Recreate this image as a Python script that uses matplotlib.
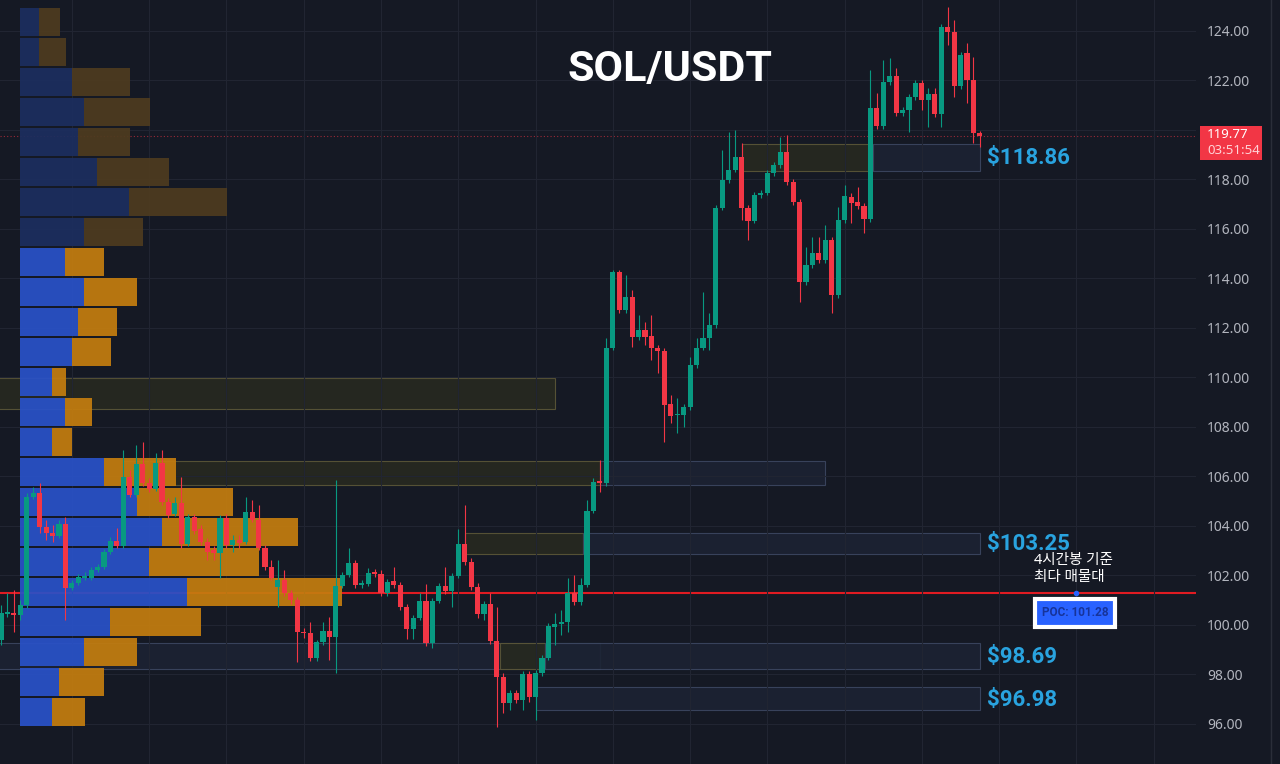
import matplotlib
matplotlib.use("Agg")
import matplotlib.pyplot as plt
from matplotlib.patches import Rectangle
from matplotlib.ticker import FormatStrFormatter
import numpy as np

plt.rcParams['font.family'] = ['Noto Sans', 'Noto Sans CJK KR', 'DejaVu Sans']
bold_fam = ['Roboto', 'Liberation Sans', 'DejaVu Sans']

# SOL/USDT 4h candles (oldest first)
opens = [99.39, 100.44, 100.48, 100.40, 100.81, 105.17, 105.33, 103.96, 103.72, 103.60,
         104.08, 101.49, 101.70, 101.90, 101.90, 102.22, 102.34, 102.95, 103.39, 103.19,
         105.98, 105.25, 106.51, 105.74, 105.49, 106.55, 104.97, 104.48, 104.93, 103.27,
         104.36, 103.88, 103.35, 103.03, 102.91, 104.32, 103.23, 103.43, 103.35, 104.57,
         104.24, 103.11, 102.34, 101.54, 101.82, 101.29, 101.01, 99.72, 99.68, 98.67,
         99.31, 99.76, 99.52, 101.58, 102.02, 102.51, 101.62, 101.66, 102.14, 102.06,
         101.29, 101.78, 101.62, 100.73, 99.84, 100.28, 100.97, 99.27, 100.97, 101.58,
         101.37, 101.98, 103.27, 102.55, 101.54, 100.44, 100.85, 99.35, 97.90, 96.85,
         97.25, 96.97, 98.02, 97.09, 98.06, 98.67, 99.92, 100.04, 100.12, 101.29,
         100.93, 101.62, 104.61, 105.82, 105.74, 111.19, 114.26, 112.73, 113.25, 111.64,
         111.92, 111.68, 111.19, 111.07, 108.93, 108.48, 108.48, 108.81, 110.51, 111.19,
         111.60, 112.12, 116.85, 117.98, 118.38, 118.91, 116.85, 116.32, 117.37, 117.45,
         118.26, 118.59, 119.11, 117.90, 117.09, 113.86, 114.55, 115.03, 114.75, 115.56,
         113.33, 116.36, 117.29, 117.09, 116.93, 116.40, 120.89, 120.16, 121.94, 122.18,
         120.69, 120.81, 121.33, 121.90, 121.21, 121.45, 120.65, 124.16, 123.96, 121.78,
         123.11, 122.02, 119.88]
highs = [100.81, 101.29, 101.41, 101.01, 105.33, 105.58, 105.74, 104.24, 104.04, 104.24,
         104.36, 101.82, 102.06, 102.14, 102.34, 102.46, 103.07, 103.56, 103.92, 107.07,
         106.26, 107.27, 107.39, 105.94, 106.95, 107.07, 105.13, 105.17, 105.98, 104.48,
         104.48, 104.04, 103.52, 103.19, 104.44, 104.48, 103.64, 103.64, 105.17, 105.05,
         104.85, 103.23, 102.63, 102.63, 102.22, 101.41, 101.13, 99.88, 100.12, 99.39,
         100.12, 100.32, 105.86, 102.14, 103.11, 102.63, 101.82, 102.30, 102.26, 102.22,
         101.86, 102.34, 101.74, 100.85, 100.40, 101.29, 101.66, 101.09, 101.70, 102.34,
         102.10, 103.88, 104.85, 102.71, 101.70, 100.97, 101.29, 100.73, 98.06, 97.37,
         97.37, 98.14, 98.14, 98.18, 98.79, 100.08, 100.48, 100.61, 101.90, 102.02,
         101.90, 105.05, 105.94, 106.67, 111.60, 114.34, 114.34, 114.14, 113.54, 112.53,
         112.24, 112.53, 111.31, 111.19, 109.29, 109.17, 108.93, 110.83, 111.60, 113.45,
         112.61, 116.97, 119.19, 119.92, 120.00, 119.47, 116.97, 117.49, 117.58, 118.38,
         118.71, 119.72, 119.80, 118.02, 117.21, 115.27, 115.68, 115.68, 116.16, 115.68,
         116.89, 117.78, 117.45, 117.70, 117.05, 122.42, 121.49, 122.83, 122.91, 122.51,
         120.93, 121.45, 122.02, 122.02, 121.70, 121.70, 124.28, 124.97, 124.44, 123.15,
         123.52, 122.95, 119.96]
lows = [99.19, 100.32, 99.72, 100.20, 100.69, 105.09, 103.72, 103.43, 103.35, 103.52,
        100.20, 101.41, 101.62, 101.82, 101.82, 102.14, 102.26, 102.87, 103.11, 103.11,
        105.17, 105.17, 105.62, 105.37, 105.41, 104.85, 104.32, 104.40, 103.11, 103.19,
        103.68, 103.23, 102.63, 102.63, 101.90, 103.11, 102.95, 103.11, 103.27, 104.16,
        103.03, 102.22, 101.82, 100.73, 101.17, 100.85, 98.51, 99.47, 98.55, 98.55,
        99.19, 98.59, 98.06, 101.49, 101.94, 101.49, 101.49, 101.58, 101.94, 101.17,
        101.17, 101.49, 100.61, 99.43, 99.43, 100.20, 99.15, 99.07, 100.89, 101.25,
        100.73, 101.90, 102.42, 101.41, 100.28, 100.20, 99.23, 95.88, 96.44, 96.57,
        96.85, 96.57, 96.89, 96.16, 97.94, 98.59, 99.19, 99.60, 99.72, 100.81,
        100.81, 101.54, 104.53, 105.37, 105.62, 111.11, 112.61, 112.61, 111.23, 111.52,
        111.31, 110.71, 110.18, 107.39, 108.16, 107.76, 108.00, 108.69, 110.38, 111.11,
        111.11, 112.00, 116.77, 117.86, 118.30, 116.36, 115.56, 116.24, 117.25, 117.37,
        118.14, 118.46, 117.78, 116.97, 113.05, 113.74, 114.42, 114.63, 114.63, 112.61,
        113.21, 116.24, 116.24, 116.81, 115.84, 116.28, 120.04, 120.04, 121.82, 120.57,
        120.57, 119.92, 121.21, 120.81, 120.12, 120.53, 120.12, 123.43, 121.33, 121.66,
        121.09, 119.47, 119.31]
closes = [100.48, 100.53, 100.40, 100.81, 105.17, 105.33, 103.96, 103.72, 103.60, 104.08,
          101.49, 101.70, 101.94, 101.98, 102.22, 102.34, 102.95, 103.39, 103.19, 105.98,
          105.25, 106.51, 105.74, 105.49, 106.55, 104.97, 104.44, 104.93, 103.27, 104.36,
          103.80, 103.35, 102.95, 102.91, 104.32, 103.23, 103.43, 103.31, 104.57, 104.24,
          103.11, 102.34, 101.90, 101.82, 101.29, 101.01, 99.72, 99.68, 98.67, 99.31,
          99.76, 99.52, 101.58, 102.02, 102.51, 101.62, 101.70, 102.10, 102.06, 101.29,
          101.74, 101.62, 100.73, 99.84, 100.28, 100.97, 99.27, 100.97, 101.58, 101.37,
          101.98, 103.27, 102.55, 101.54, 100.44, 100.85, 99.35, 97.90, 96.85, 97.25,
          96.97, 98.02, 97.09, 98.06, 98.67, 99.96, 100.04, 100.12, 101.29, 100.93,
          101.62, 104.61, 105.78, 105.74, 111.19, 114.26, 112.73, 113.25, 111.64, 111.92,
          111.64, 111.19, 111.07, 108.89, 108.44, 108.53, 108.81, 110.51, 111.19, 111.60,
          112.12, 116.85, 117.98, 118.38, 118.91, 116.85, 116.32, 117.37, 117.45, 118.26,
          118.59, 119.11, 117.90, 117.09, 113.86, 114.55, 115.03, 114.75, 115.56, 113.33,
          116.36, 117.33, 117.05, 116.93, 116.40, 120.89, 120.16, 121.94, 122.18, 120.69,
          120.81, 121.33, 121.90, 121.21, 121.45, 120.65, 124.16, 123.96, 121.78, 123.03,
          122.02, 119.88, 119.77]

# volume profile rows, top to bottom (buy = blue, sell = orange)
vp_buy = [19, 19, 52, 64, 58, 77, 109, 64, 45, 64, 58, 52, 32, 45, 32, 84, 117, 142, 129, 167, 90, 64, 39, 32]
vp_sell = [21, 27, 58, 66, 52, 72, 98, 59, 39, 53, 39, 39, 14, 27, 20, 72, 96, 136, 110, 155, 91, 53, 45, 33]
vp_high = 124.97
vp_step = 1.212
vp_outside_va = 8   # rows above value area drawn dimmed

# zones: start bar, end bar, low, high, kind
zones = [
    (-1, 86, 108.73, 109.98, 'ob'),
    (19, 93, 105.66, 106.63, 'ob'),
    (93, 128, 105.66, 106.63, 'fvg'),
    (72, 90.4, 102.87, 103.72, 'ob'),
    (90.4, 152, 102.87, 103.72, 'fvg'),
    (-1, 93, 98.22, 99.27, 'fvg'),
    (77.5, 84.5, 98.22, 99.27, 'ob'),
    (84.5, 152, 98.22, 99.27, 'fvg'),
    (83, 152, 96.57, 97.49, 'fvg'),
    (115, 135.4, 118.34, 119.43, 'ob'),
    (135.4, 152, 118.34, 119.43, 'fvg'),
]
levels = [118.86, 103.25, 98.69, 96.98]
poc = 101.28
last_price = 119.77

bg = '#151924'
up_col = '#089981'
dn_col = '#f23645'

fig = plt.figure(figsize=(12.8, 7.64), dpi=100)
fig.patch.set_facecolor(bg)
ax = fig.add_axes([0, 0, 1196 / 1280, 1])
ax.set_facecolor(bg)

px_per_bar = 6.44
xmin = -1 / px_per_bar
xmax = xmin + 1196 / px_per_bar

# grid (ticks first, limits after so they don't get widened)
ax.set_yticks(np.arange(96, 125, 2))
ax.set_xticks(np.arange(11, 186, 12))
ax.set_xlim(xmin, xmax)
ax.set_ylim(94.38, 125.25)
ax.grid(color='#212532', lw=0.8, zorder=0)
ax.yaxis.tick_right()
ax.yaxis.set_major_formatter(FormatStrFormatter('%.2f'))
ax.tick_params(axis='y', length=0, pad=8, labelcolor='#b2b5be', labelsize=10)
ax.tick_params(axis='x', length=0, labelbottom=False)
for s in ax.spines.values():
    s.set_visible(False)

# zones
for x0, x1, lo, hi, kind in zones:
    if kind == 'ob':
        fc, ec = '#272920', '#5c5738'
    else:
        fc, ec = '#1c2333', '#3c4761'
    ax.add_patch(Rectangle((x0, lo), x1 - x0, hi - lo, facecolor=fc, edgecolor=ec,
                           lw=0.8, alpha=0.9, zorder=1))

# POC line and last price line
ax.axhline(poc, color='#e01b22', lw=1.5, zorder=1.5)
ax.axhline(last_price, color=dn_col, lw=0.8, ls=(0, (1, 2)), alpha=0.6, zorder=1.5)

# volume profile
vp_left = xmin + 20 / px_per_bar
gap = 2 / 24.75
for k in range(len(vp_buy)):
    mid = vp_high - (k + 0.5) * vp_step
    if k < vp_outside_va:
        cb, cs = '#1c2e5f', '#4e3b1f'
    else:
        cb, cs = '#2952c8', '#c37d0f'
    wb = vp_buy[k] / px_per_bar
    ws = vp_sell[k] / px_per_bar
    ax.barh(mid, wb, height=vp_step - gap, left=vp_left, color=cb, alpha=0.93, zorder=2)
    ax.barh(mid, ws, height=vp_step - gap, left=vp_left + wb, color=cs, alpha=0.93, zorder=2)

# candles
o = np.array(opens)
h = np.array(highs)
l = np.array(lows)
c = np.array(closes)
idx = np.arange(len(o))
cols = np.where(c >= o, up_col, dn_col)
ax.vlines(idx, l, h, colors=cols, lw=0.8, zorder=3)
body_lo = np.minimum(o, c)
body_h = np.maximum(np.abs(c - o), 0.05)
ax.bar(idx, body_h, bottom=body_lo, width=0.8, color=cols, zorder=3.5)
ax.set_xlim(xmin, xmax)

# level labels
for v in levels:
    ax.annotate(f'${v:.2f}', xy=(152, v), xytext=(5, 0), textcoords='offset points',
                ha='left', va='center', color='#29a3df', fontsize=16, fontweight='bold',
                family=bold_fam, zorder=5)

ax.plot([166.9], [poc], marker='o', ms=3, color='#2962ff', zorder=5)

# the 120.00 label sits under the price tag
for lab in ax.get_yticklabels():
    if lab.get_text() == '120.00':
        lab.set_visible(False)

# title
fig.text(670 / 1280, 1 - 70 / 764, 'SOL/USDT', ha='center', va='center', color='white',
         fontsize=31, fontweight='bold', family=bold_fam)

# annotation
fig.text(1034 / 1280, 1 - 553 / 764, '4시간봉 기준\n최다 매물대', ha='left', va='top',
         color='white', fontsize=10.5, fontweight='medium', linespacing=1.2)
fig.text(1075 / 1280, 1 - 613 / 764, 'POC: 101.28', ha='center', va='center',
         color='#17349a', fontsize=8.5, fontweight='bold', family=bold_fam,
         bbox=dict(boxstyle='square,pad=0.6', facecolor='#2962ff', edgecolor='white', lw=3))

# last price tag
fig.patches.append(Rectangle((1200 / 1280, 1 - 160 / 764), 62 / 1280, 34 / 764,
                             transform=fig.transFigure, facecolor=dn_col, edgecolor='none',
                             zorder=5))
fig.text(1207 / 1280, 1 - 135 / 764, f'{last_price:.2f}', ha='left', va='center',
         color='white', fontsize=9.5, zorder=6)
fig.text(1207 / 1280, 1 - 151 / 764, '03:51:54', ha='left', va='center',
         color='#ffd3d7', fontsize=9.5, zorder=6)

# right border
fig.add_artist(plt.Line2D([1271 / 1280, 1271 / 1280], [0, 1], transform=fig.transFigure,
                          color='#2a2e39', lw=1))

fig.savefig('out.png', dpi=100, facecolor=bg)
